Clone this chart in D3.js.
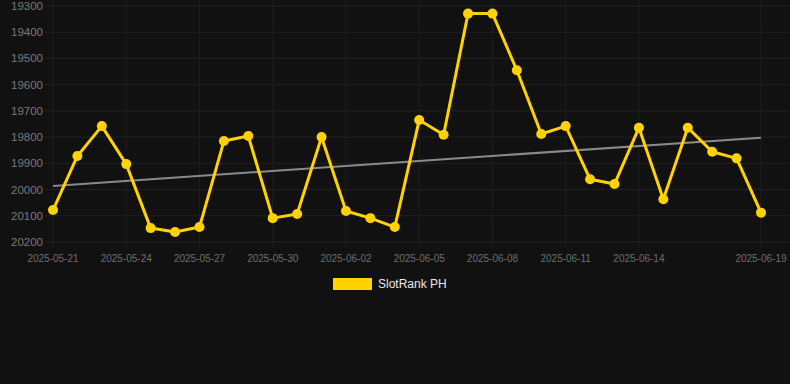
<!DOCTYPE html>
<html><head><meta charset="utf-8">
<script src="https://cdn.jsdelivr.net/npm/d3@7"></script>
<style>
html,body{margin:0;padding:0;background:#111111;}
svg{display:block;}
</style></head>
<body>
<svg id="c" width="790" height="384"></svg>
<script>
const dates = ["2025-05-21","2025-05-22","2025-05-23","2025-05-24","2025-05-25","2025-05-26","2025-05-27","2025-05-28","2025-05-29","2025-05-30",
"2025-05-31","2025-06-01","2025-06-02","2025-06-03","2025-06-04","2025-06-05","2025-06-06","2025-06-07","2025-06-08","2025-06-09",
"2025-06-10","2025-06-11","2025-06-12","2025-06-13","2025-06-14","2025-06-15","2025-06-16","2025-06-17","2025-06-18","2025-06-19"];
const values = [20078,19872,19758,19903,20147,20162,20143,19815,19796,20109,
20093,19800,20082,20109,20143,19735,19791,19329,19329,19545,
19788,19758,19961,19979,19764,20037,19764,19856,19881,20088];
const trendStart = 19986;
const trendEnd = 19802;
const yTicks = [19300,19400,19500,19600,19700,19800,19900,20000,20100,20200];
const xTickLabels = ["2025-05-21","2025-05-24","2025-05-27","2025-05-30","2025-06-02","2025-06-05","2025-06-08","2025-06-11","2025-06-14","2025-06-19"];
const seriesName = "SlotRank PH";

const parse = d3.utcParse("%Y-%m-%d");
const svg = d3.select("#c");
const font = "'Liberation Sans', Arial, sans-serif";
const x = d3.scaleUtc().domain([parse(dates[0]), parse(dates[dates.length-1])]).range([53, 761]);
const y = d3.scaleLinear().domain([19300, 20200]).range([6, 242]);

// horizontal grid
svg.append("g").selectAll("line").data(yTicks).join("line")
  .attr("x1", 45).attr("x2", 790).attr("y1", d => y(d)).attr("y2", d => y(d))
  .attr("stroke", "#222222").attr("stroke-width", 1);
// vertical grid
svg.append("g").selectAll("line").data(xTickLabels).join("line")
  .attr("x1", d => x(parse(d))).attr("x2", d => x(parse(d)))
  .attr("y1", 0).attr("y2", 248)
  .attr("stroke", "#1e1e1e").attr("stroke-width", 1);

// y labels
svg.append("g").selectAll("text").data(yTicks).join("text")
  .attr("x", 43).attr("y", d => y(d)).attr("dy", "0.35em")
  .attr("text-anchor", "end").attr("fill", "#7a7a7a")
  .style("font-family", font).style("font-size", "11.5px")
  .text(d => d);
// x labels
svg.append("g").selectAll("text").data(xTickLabels).join("text")
  .attr("x", d => x(parse(d))).attr("y", 262)
  .attr("text-anchor", "middle").attr("fill", "#6e6e6e")
  .style("font-family", font).style("font-size", "10px")
  .text(d => d);

// trend line
svg.append("line")
  .attr("x1", x(parse(dates[0]))).attr("y1", y(trendStart))
  .attr("x2", x(parse(dates[dates.length-1]))).attr("y2", y(trendEnd))
  .attr("stroke", "#8a8a8a").attr("stroke-width", 2);

const data = dates.map((d,i) => ({d: parse(d), v: values[i]}));
svg.append("path").datum(data)
  .attr("fill", "none").attr("stroke", "#FFD200").attr("stroke-width", 3)
  .attr("stroke-linejoin", "round")
  .attr("d", d3.line().x(p => x(p.d)).y(p => y(p.v)));
svg.append("g").selectAll("circle").data(data).join("circle")
  .attr("cx", p => x(p.d)).attr("cy", p => y(p.v)).attr("r", 5)
  .attr("fill", "#FFD200");

// legend
svg.append("rect").attr("x", 333).attr("y", 278).attr("width", 39).attr("height", 12).attr("fill", "#FFD200");
svg.append("text").attr("x", 378).attr("y", 284).attr("dy", "0.35em")
  .attr("fill", "#e8e8e8").style("font-family", font).style("font-size", "12px")
  .text(seriesName);
</script>
</body></html>
